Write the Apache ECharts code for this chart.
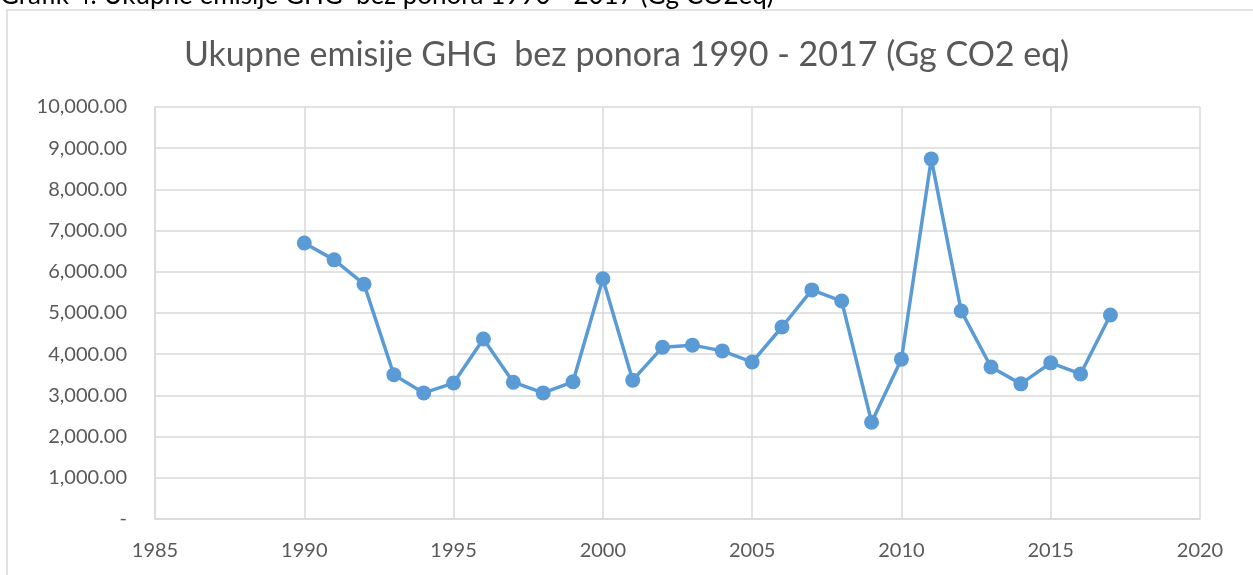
<!DOCTYPE html>
<html style="height: 100%">
<head>
  <meta charset="utf-8">
</head>
<body style="height: 100%; margin: 0">
  <div id="container" style="width: 1253px; height: 575px"></div>
  <script src="https://cdn.jsdelivr.net/npm/echarts@6/dist/echarts.min.js"></script>
  <script type="text/javascript">
    var years = [1990, 1991, 1992, 1993, 1994, 1995, 1996, 1997, 1998, 1999,
      2000, 2001, 2002, 2003, 2004, 2005, 2006, 2007, 2008, 2009,
      2010, 2011, 2012, 2013, 2014, 2015, 2016, 2017];
    var emisije = [6700, 6290, 5700, 3500, 3060, 3300, 4370, 3320, 3060, 3330,
      5830, 3370, 4170, 4220, 4080, 3810, 4660, 5560, 5290, 2350,
      3880, 8740, 5050, 3690, 3280, 3790, 3520, 4950];

    var points = [];
    for (var i = 0; i < years.length; i++) {
      points.push([years[i], emisije[i]]);
    }

    var textColor = '#595959';
    var gridColor = '#d9d9d9';

    var myChart = echarts.init(document.getElementById('container'));
    var option = {
      textStyle: { fontFamily: 'Lato' },
      title: {
        text: 'Ukupne emisije GHG  bez ponora 1990 - 2017 (Gg CO2 eq)',
        left: 'center',
        top: 33,
        textStyle: { fontSize: 34, fontWeight: 'normal', color: textColor, fontFamily: 'Lato' }
      },
      graphic: [
        {
          type: 'rect',
          shape: { x: 7, y: 10, width: 1260, height: 580 },
          style: { fill: 'none', stroke: '#d9d9d9', lineWidth: 1.5 },
          silent: true
        },
        {
          type: 'text',
          left: 0,
          top: -17,
          style: {
            text: 'Grafik 4. Ukupne emisije GHG  bez ponora 1990 - 2017 (Gg CO2eq)',
            font: '26px Lato',
            fill: '#000'
          }
        }
      ],
      grid: { left: 155, right: 53, top: 107, bottom: 56 },
      xAxis: {
        type: 'value',
        min: 1985,
        max: 2020,
        interval: 5,
        axisLine: { show: true, lineStyle: { color: gridColor, width: 1.5 } },
        axisTick: { show: false },
        splitLine: { show: true, lineStyle: { color: gridColor, width: 1.5 } },
        axisLabel: {
          color: textColor, fontSize: 20, margin: 22, fontFamily: 'Lato',
          formatter: function (v) { return String(v); }
        }
      },
      yAxis: {
        type: 'value',
        min: 0,
        max: 10000,
        interval: 1000,
        axisLine: { show: true, lineStyle: { color: gridColor, width: 1.5 } },
        axisTick: { show: false },
        splitLine: { show: true, lineStyle: { color: gridColor, width: 1.5 } },
        axisLabel: {
          color: textColor,
          fontSize: 20,
          margin: 28,
          fontFamily: 'Lato',
          formatter: function (v) {
            if (v === 0) return '-';
            return v.toLocaleString('en-US', { minimumFractionDigits: 2, maximumFractionDigits: 2 });
          }
        }
      },
      series: [
        {
          type: 'line',
          data: points,
          symbol: 'circle',
          symbolSize: 15,
          lineStyle: { color: '#5b9bd5', width: 3.5 },
          itemStyle: { color: '#5b9bd5' }
        }
      ]
    };
    myChart.setOption(option);
  </script>
</body>
</html>
